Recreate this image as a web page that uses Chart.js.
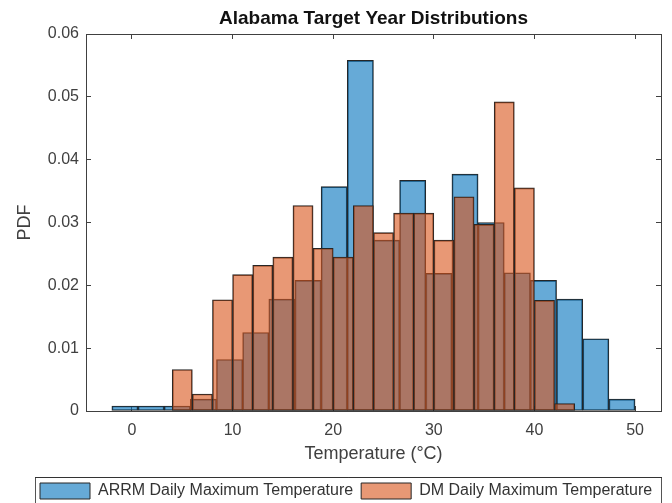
<!DOCTYPE html>
<html>
<head>
<meta charset="utf-8">
<script src="https://cdn.jsdelivr.net/npm/chart.js@4/dist/chart.umd.min.js"></script>
<style>
  html, body { margin: 0; padding: 0; background: #fff; }
  #wrap { width: 672px; height: 503px; }
</style>
</head>
<body>
<div id="wrap"><canvas id="c"></canvas></div>
<script>
// ARRM histogram: 20 bins, 2.6 °C wide, from -2 to 50
const arrmCenters = [-0.7, 1.9, 4.5, 7.1, 9.7, 12.3, 14.9, 17.5, 20.1, 22.7,
                     25.3, 27.9, 30.5, 33.1, 35.7, 38.3, 40.9, 43.5, 46.1, 48.7];
const arrmPdf = [0.0008, 0.0008, 0.0008, 0.0019, 0.0082, 0.0125, 0.0178, 0.0208, 0.0357, 0.0558,
                 0.0272, 0.0367, 0.0219, 0.0377, 0.0300, 0.0220, 0.0208, 0.0178, 0.0115, 0.0019];

// DM histogram: 20 bins, 2 °C wide, from 4 to 44
const dmCenters = [5, 7, 9, 11, 13, 15, 17, 19, 21, 23,
                   25, 27, 29, 31, 33, 35, 37, 39, 41, 43];
const dmPdf = [0.0066, 0.0027, 0.0177, 0.0217, 0.0232, 0.0245, 0.0327, 0.0259, 0.0245, 0.0327,
               0.0284, 0.0315, 0.0315, 0.0272, 0.0341, 0.0297, 0.0492, 0.0355, 0.0176, 0.0012];

const xTicks = [0, 10, 20, 30, 40, 50];
const yTicks = [0, 0.01, 0.02, 0.03, 0.04, 0.05, 0.06];

const X_MIN = -4.57, X_MAX = 52.58;
const AXIS = '#404040';
Chart.defaults.font.family = "'Liberation Sans', Arial, Helvetica, sans-serif";

const toPoints = (xs, ys) => xs.map((x, i) => ({ x, y: ys[i] }));
const fixTicks = values => scale => { scale.ticks = values.map(v => ({ value: v })); };

// matlab-style box: inward tick marks, no grid
const frame = {
  offset: false,
  grid: { drawOnChartArea: false, drawTicks: true, tickLength: -5, color: AXIS, lineWidth: 1, offset: false },
  border: { color: AXIS, width: 1 },
};

// nudge the legend row under the axes and draw its box
const legendBox = {
  id: 'legendBox',
  afterLayout(chart) {
    const lg = chart.legend;
    lg.left = 32;
    lg.top += 6;
  },
  afterDraw(chart) {
    const lg = chart.legend;
    const { ctx, chartArea } = chart;
    ctx.save();
    ctx.strokeStyle = '#555';
    ctx.lineWidth = 1;
    ctx.strokeRect(lg.left + 3.5, lg.top + 2.5, chartArea.right - lg.left - 3, chart.height);
    ctx.strokeStyle = '#333';
    ctx.beginPath();
    ctx.moveTo(lg.left + 3, lg.top + 2.5);
    ctx.lineTo(chartArea.right + 1, lg.top + 2.5);
    ctx.stroke();
    ctx.restore();
  },
};

new Chart(document.getElementById('c'), {
  type: 'bar',
  data: {
    datasets: [
      {
        label: 'ARRM Daily Maximum Temperature',
        data: toPoints(arrmCenters, arrmPdf),
        xAxisID: 'xb',
        backgroundColor: 'rgba(0,114,189,0.6)',
        borderColor: '#262626',
        borderWidth: 1,
        order: 1,
      },
      {
        label: 'DM Daily Maximum Temperature',
        data: toPoints(dmCenters, dmPdf),
        xAxisID: 'x',
        backgroundColor: 'rgba(217,83,25,0.6)',
        borderColor: '#262626',
        borderWidth: 1,
        order: 0,
      },
    ],
  },
  options: {
    responsive: true,
    maintainAspectRatio: false,
    animation: false,
    layout: { padding: { left: 0, right: 11, top: 0, bottom: 0 } },
    datasets: {
      bar: { grouped: false, categoryPercentage: 1, barPercentage: 1, borderSkipped: false },
    },
    scales: {
      x: {
        type: 'linear', position: 'bottom', min: X_MIN, max: X_MAX,
        afterBuildTicks: fixTicks(xTicks),
        afterFit: s => { s.height = 58; },
        ticks: { font: { size: 16 }, color: AXIS, padding: 15, maxRotation: 0 },
        title: { display: true, text: 'Temperature (°C)', font: { size: 18 }, color: AXIS,
                 padding: { top: 0, bottom: 4.5 } },
        ...frame,
      },
      xb: {
        type: 'linear', display: false, offset: false, min: X_MIN, max: X_MAX,
        afterBuildTicks: fixTicks(xTicks),
      },
      xt: {
        type: 'linear', position: 'top', min: X_MIN, max: X_MAX,
        afterBuildTicks: fixTicks(xTicks),
        afterFit: s => { s.height = 0; },
        ticks: { display: false },
        ...frame,
      },
      y: {
        type: 'linear', position: 'left', min: 0, max: 0.06,
        afterBuildTicks: fixTicks(yTicks),
        afterFit: s => { s.width = 86; },
        ticks: { font: { size: 16 }, color: AXIS, padding: 12,
                 callback: v => String(+v.toFixed(2)) },
        title: { display: true, text: 'PDF', font: { size: 18 }, color: AXIS,
                 padding: { top: 14.7, bottom: 0 } },
        ...frame,
      },
      yr: {
        type: 'linear', position: 'right', min: 0, max: 0.06,
        afterBuildTicks: fixTicks(yTicks),
        afterFit: s => { s.width = 0; },
        ticks: { display: false },
        ...frame,
      },
    },
    plugins: {
      title: {
        display: true,
        fullSize: false,
        text: 'Alabama Target Year Distributions',
        font: { size: 19, weight: 'bold' },
        color: '#111',
        padding: { top: 7.6, bottom: 3.6 },
      },
      legend: {
        position: 'bottom',
        align: 'start',
        labels: {
          boxWidth: 50, boxHeight: 16, padding: 8,
          font: { size: 16 }, color: '#333',
          sort: (a, b) => a.datasetIndex - b.datasetIndex,
        },
      },
      tooltip: { enabled: false },
    },
  },
  plugins: [legendBox],
});
</script>
</body>
</html>
